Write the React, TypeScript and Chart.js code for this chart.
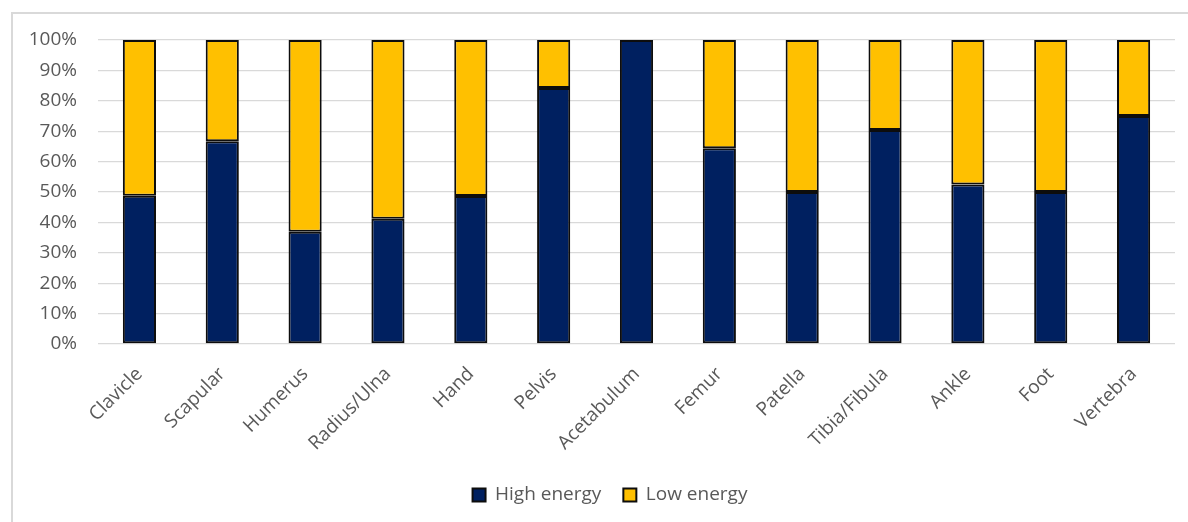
import { useEffect, useRef } from "react";
import { Chart, registerables } from "chart.js";

Chart.register(...registerables);

// Share of fractures by injury mechanism (%), per anatomical site
const categories = [
  "Clavicle",
  "Scapular",
  "Humerus",
  "Radius/Ulna",
  "Hand",
  "Pelvis",
  "Acetabulum",
  "Femur",
  "Patella",
  "Tibia/Fibula",
  "Ankle",
  "Foot",
  "Vertebra",
];
const highEnergy = [48.8, 66.7, 36.9, 41.2, 48.7, 84.2, 100, 64.4, 50.0, 70.4, 52.5, 50.0, 75.0];
const lowEnergy = [51.2, 33.3, 63.1, 58.8, 51.3, 15.8, 0, 35.6, 50.0, 29.6, 47.5, 50.0, 25.0];
const seriesNames = ["High energy", "Low energy"];
const yMin = 0;
const yMax = 100;
const yStep = 10;

const FONT = "'Open Sans', 'DejaVu Sans', sans-serif";
const TEXT = "#595959";

// Centres the legend row under the whole frame rather than the canvas minus its right padding
const legendNudge = {
  id: "legendNudge",
  afterLayout(chart: any) {
    const legend = chart.legend;
    if (legend) {
      legend.left += 16;
      legend.right += 16;
    }
  },
};

export default function App() {
  const canvasRef = useRef<HTMLCanvasElement | null>(null);

  useEffect(() => {
    const canvas = canvasRef.current;
    if (!canvas) return;
    const chart = new Chart(canvas, {
      type: "bar",
      data: {
        labels: categories,
        datasets: [
          {
            label: seriesNames[0],
            data: highEnergy,
            backgroundColor: "#002060",
            borderColor: "#0d0d0d",
            borderWidth: 2,
            borderSkipped: false,
          },
          {
            label: seriesNames[1],
            data: lowEnergy,
            backgroundColor: "#FFC000",
            borderColor: "#0d0d0d",
            borderWidth: 2,
            borderSkipped: false,
          },
        ],
      },
      plugins: [legendNudge],
      options: {
        animation: false,
        responsive: false,
        maintainAspectRatio: false,
        layout: { padding: { top: 26, right: 13, bottom: 7.5, left: 0 } },
        datasets: {
          bar: { barPercentage: 0.4, categoryPercentage: 1 },
        },
        scales: {
          x: {
            stacked: true,
            grid: { display: false },
            border: { display: false },
            ticks: {
              color: TEXT,
              font: { family: FONT, size: 19 },
              minRotation: 45,
              maxRotation: 45,
              autoSkip: false,
              padding: 11,
            },
            afterFit: (scale: any) => {
              scale.height = 119.5;
            },
          },
          y: {
            stacked: true,
            min: yMin,
            max: yMax,
            grid: { color: "#d9d9d9", lineWidth: 1.3, drawTicks: false },
            border: { display: false },
            ticks: {
              stepSize: yStep,
              color: TEXT,
              padding: 21,
              font: { family: FONT, size: 19 },
              callback: (v: any) => `${v}%`,
            },
            afterFit: (scale: any) => {
              scale.width = 85;
              // keep the plot edges set by the layout padding alone
              scale.paddingTop = 0;
              scale.paddingBottom = 0;
            },
          },
        },
        plugins: {
          legend: {
            position: "bottom",
            labels: {
              color: TEXT,
              font: { family: FONT, size: 19 },
              boxWidth: 13,
              boxHeight: 13,
              padding: 22,
            },
          },
          tooltip: { enabled: false },
        },
      },
    });
    return () => chart.destroy();
  }, []);

  return (
    <div
      style={{
        position: "fixed",
        left: 11,
        top: 12,
        width: 1177,
        height: 510,
        boxSizing: "border-box",
        borderTop: "2px solid #d9d9d9",
        borderLeft: "2px solid #d9d9d9",
        background: "#fff",
      }}
    >
      <canvas ref={canvasRef} width={1175} height={508} style={{ display: "block" }} />
    </div>
  );
}
